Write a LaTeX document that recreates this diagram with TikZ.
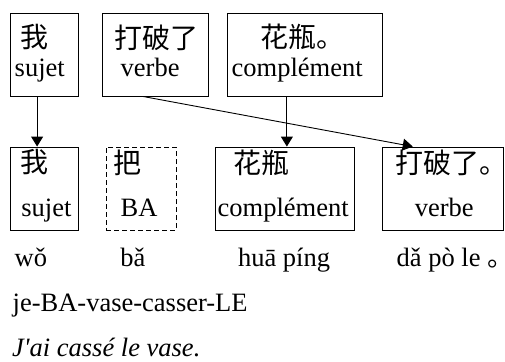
\documentclass[tikz,border=0pt]{standalone}
\usepackage{fontspec}
\setmainfont{Liberation Serif}
\newfontfamily\cjk{Noto Sans CJK SC}
\usetikzlibrary{arrows.meta,calc}
\tikzset{
  box/.style={draw=black, line width=0.9pt, inner sep=0pt, rectangle},
  dbox/.style={box, dash pattern=on 5pt off 3pt},
  hz/.style={inner sep=0pt, anchor=west, font=\cjk\fontsize{28}{32}\selectfont},
  lat/.style={inner sep=0pt, anchor=base west, font=\fontsize{26.5}{30}\selectfont},
  arr/.style={line width=0.9pt, -{Triangle[width=12pt,length=10pt]}}
}
% full stop set in a narrow box so that it takes no more room than its mark
\newcommand{\hzstop}{\makebox[0.4em][l]{\cjk 。}}
\begin{document}
\begin{tikzpicture}[x=1pt,y=-1pt]
\useasboundingbox (0,0) rectangle (505,361);
% upper row of boxes
\node[box, minimum width=68pt, minimum height=83pt]  (t1) at (44,54.5) {};
\node[box, minimum width=106pt, minimum height=83pt] (t2) at (155,54.5) {};
\node[box, minimum width=155pt, minimum height=83pt] (t3) at (304.5,54.5) {};
% lower row of boxes
\node[box, minimum width=68pt, minimum height=83pt]  (b1) at (44,188.5) {};
\node[dbox, minimum width=70pt, minimum height=83pt] (b2) at (141,188.5) {};
\node[box, minimum width=139pt, minimum height=83pt] (b3) at (284.5,188.5) {};
\node[box, minimum width=121pt, minimum height=83pt] (b4) at (442.5,188.5) {};
% labels of the upper boxes
\node[hz]  (t1a) at (20,37.5) {我};
\node[lat] (t1b) at (14.5,76.7) {sujet};
\node[hz]  (t2a) at (114.5,37.5) {打破了};
\node[lat] (t2b) at (120.5,76.7) {verbe};
\node[hz]  (t3a) at (260,37) {花瓶\hzstop};
\node[lat] (t3b) at (231.5,76.7) {complément};
% labels of the lower boxes
\node[hz]  (b1a) at (20,162.5) {我};
\node[lat] (b1b) at (21.2,216.7) {sujet};
\node[hz]  (b2a) at (113.5,162.5) {把};
\node[lat] (b2b) at (120.5,216.7) {BA};
\node[hz]  (b3a) at (233.5,162.5) {花瓶};
\node[lat] (b3b) at (217.5,216.7) {complément};
\node[hz]  (b4a) at (395,162.5) {打破了\hzstop};
\node[lat] (b4b) at (414.7,216.7) {verbe};
% pinyin
\node[lat] (p1) at (14.5,266.7) {wǒ};
\node[lat] (p2) at (120.2,266.7) {bǎ};
\node[lat] (p3) at (237.8,266.7) {huā píng};
\node[lat] (p4) at (396.5,266.7) {dǎ pò le \hzstop};
% glosses
\node[lat] (g1) at (12.5,311.7) {je-BA-vase-casser-LE};
\node[lat] (g2) at (12,356) {\itshape J\textquotesingle ai cassé le vase.};
% connectors
\path ($(t3.south west)!0.387!(t3.south east)$) coordinate (c3);
\draw[arr] ($(t1.south west)!0.4!(t1.south east)$) -- ($(b1.north west)!0.4!(b1.north east)$);
\draw[arr] ($(t2.south west)!0.387!(t2.south east)$) -- ($(b4.north west)!0.256!(b4.north east)$);
\draw[arr] (c3) -- (c3 |- b3.north);
\end{tikzpicture}
\end{document}
